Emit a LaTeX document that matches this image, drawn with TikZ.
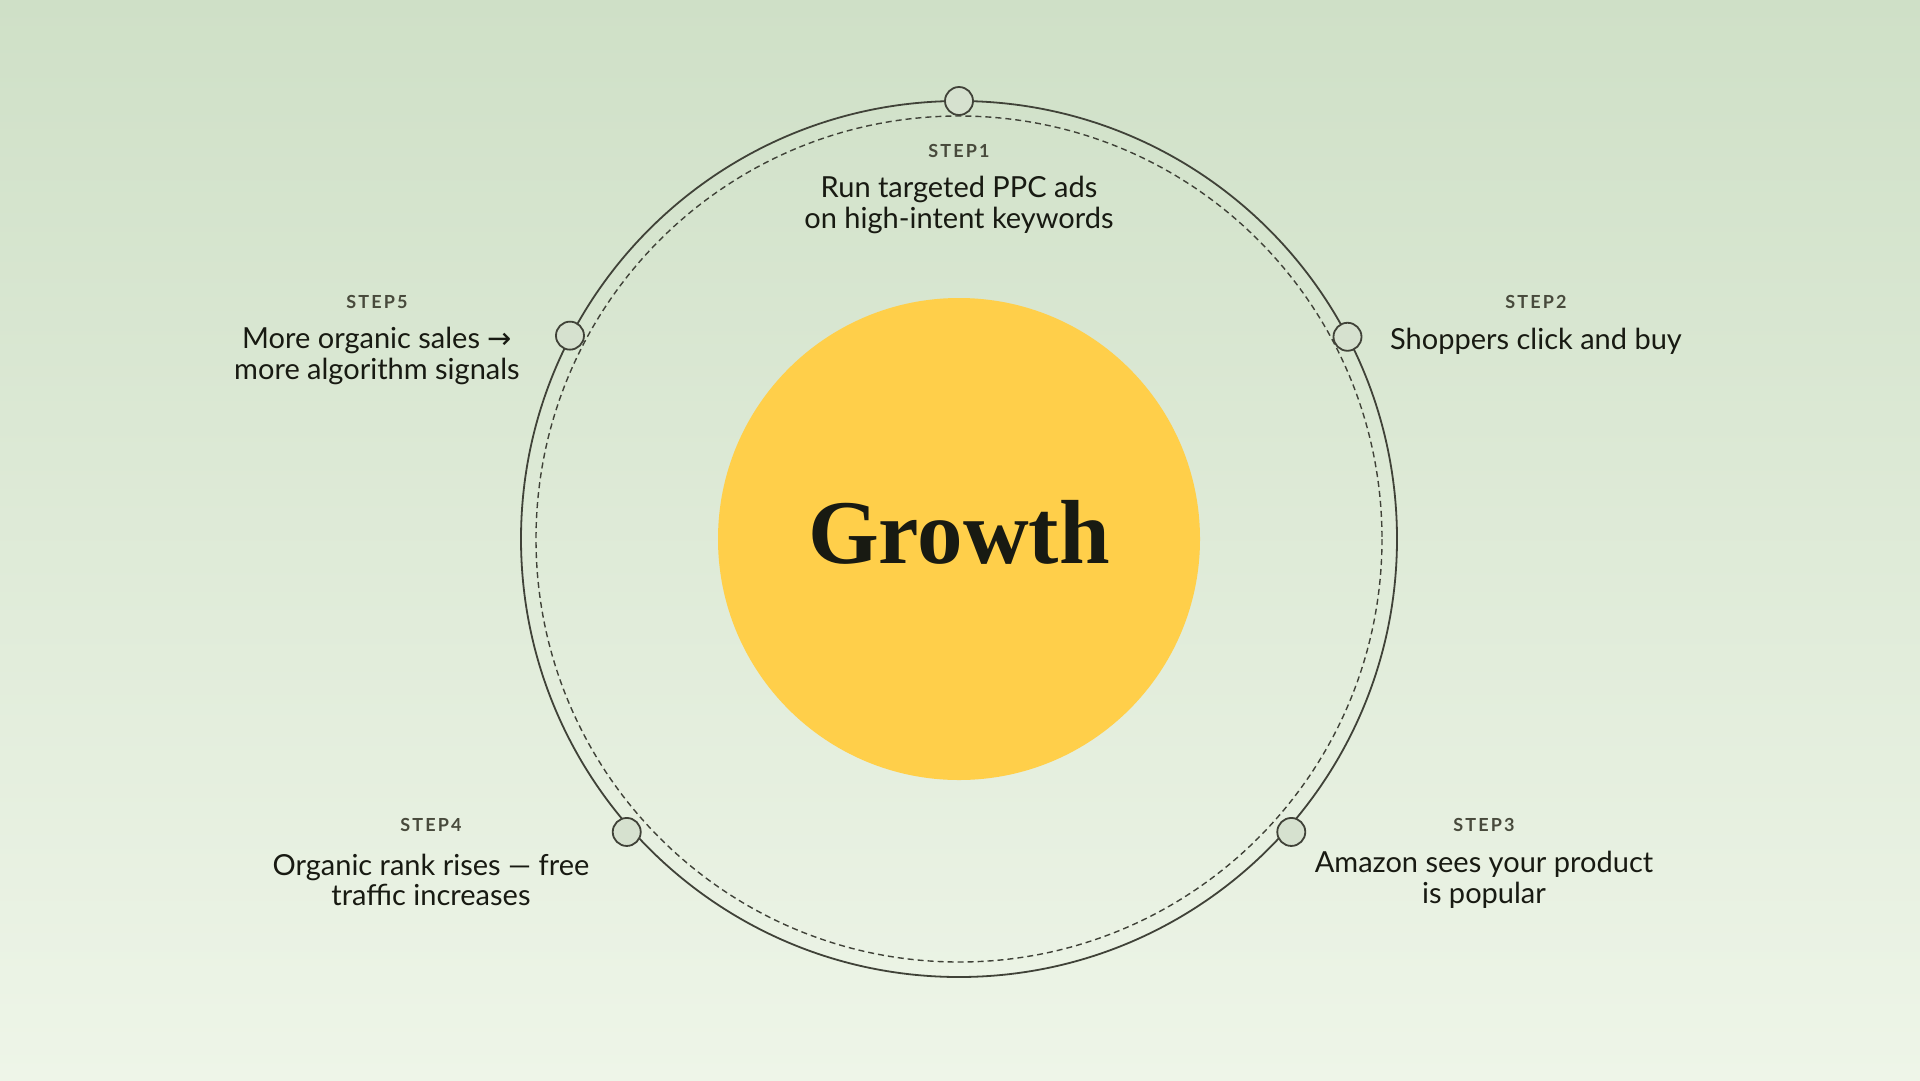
\documentclass[tikz,border=0pt]{standalone}
\usepackage{fontspec}
\setmainfont{Lato}
\newfontfamily\stepfont{Lato}[LetterSpace=12]
\newfontfamily\growthfont{Liberation Serif}
\newfontfamily\arrowfont{DejaVu Sans}
\usetikzlibrary{calc}
\definecolor{bgtop}{RGB}{207,224,199}
\definecolor{bgbot}{RGB}{238,245,232}
\definecolor{ring}{RGB}{64,66,56}
\definecolor{sun}{RGB}{255,207,74}
\definecolor{stepgray}{RGB}{72,74,60}
\definecolor{ink}{RGB}{24,26,18}
\definecolor{dotfill}{RGB}{214,225,207}
\begin{document}
\begin{tikzpicture}[x=1pt,y=-1pt,
  dot/.style={circle, draw=ring, line width=1.8pt, fill=dotfill, minimum size=28pt, inner sep=0pt},
  steplabel/.style={font=\stepfont\bfseries\fontsize{18}{20}\selectfont, text=stepgray, inner sep=0pt},
  desc/.style={font=\fontsize{29}{30.5}\selectfont, text=ink, align=center, inner sep=0pt},
  outerring/.style={draw=ring, line width=1.8pt},
  innerring/.style={draw=ring, line width=1.4pt, dash pattern=on 6pt off 4pt}]
\fill[top color=bgtop, bottom color=bgbot] (0,0) rectangle (1920,1080);
\useasboundingbox (0,0) rectangle (1920,1080);
\coordinate (c) at (959,539);
\path[outerring] (c) circle[radius=438];
\path[innerring] (c) circle[radius=423];
\node[circle, fill=sun, minimum size=482pt, inner sep=0pt] (sun) at (c) {};
\node[font=\growthfont\bfseries\fontsize{91}{100}\selectfont, text=ink, anchor=base, inner sep=0pt] (growth) at (959,563) {Growth};
\node[dot] (s1) at ($(c)+(-90:438)$) {};
\node[dot] (s2) at ($(c)+(-27.5:438)$) {};
\node[dot] (s3) at ($(c)+(41.4:443)$) {};
\node[dot] (s4) at ($(c)+(138.6:443)$) {};
\node[dot] (s5) at ($(c)+(207.6:439)$) {};
\node[steplabel] (l1) at (959,151) {STEP1};
\node[desc] (d1) at (959,205) {Run targeted PPC ads\\on high-intent keywords};
\node[steplabel] (l2) at (1536,302) {STEP2};
\node[desc] (d2) at (1536,341) {Shoppers click and buy};
\node[steplabel] (l3) at (1484,825) {STEP3};
\node[desc] (d3) at (1484,880) {Amazon sees your product\\is popular};
\node[steplabel] (l4) at (431,825) {STEP4};
\node[desc] (d4) at (431,880) {Organic rank rises — free\\traffic increases};
\node[steplabel] (l5) at (377,302) {STEP5};
\node[desc] (d5) at (377,356) {More organic sales {\arrowfont →}\\more algorithm signals};
\end{tikzpicture}
\end{document}
